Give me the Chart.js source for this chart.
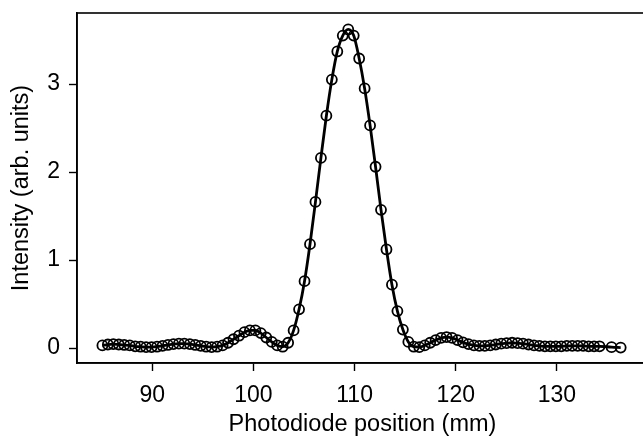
<!DOCTYPE html>
<html>
<head>
<meta charset="utf-8">
<script src="https://cdn.jsdelivr.net/npm/chart.js@4.4.1/dist/chart.umd.min.js"></script>
<style>
  html, body { margin: 0; padding: 0; background: #ffffff; overflow: hidden; }
  #wrap { position: absolute; left: 0; top: 0; width: 660px; height: 436px; }
</style>
</head>
<body>
<div id="wrap"><canvas id="c"></canvas></div>
<script>
// Photodiode position (mm)
const positions = [
  85.07, 85.61, 86.15, 86.69, 87.23, 87.77, 88.31, 88.85, 89.39, 89.93,
  90.47, 91.01, 91.55, 92.09, 92.63, 93.17, 93.71, 94.25, 94.79, 95.33,
  95.87, 96.41, 96.95, 97.49, 98.03, 98.57, 99.11, 99.65, 100.19, 100.73,
  101.27, 101.81, 102.35, 102.89, 103.43, 103.97, 104.51, 105.05, 105.59, 106.13,
  106.67, 107.21, 107.75, 108.29, 108.83, 109.37, 109.91, 110.45, 110.99, 111.53,
  112.07, 112.61, 113.15, 113.69, 114.23, 114.77, 115.31, 115.85, 116.39, 116.93,
  117.47, 118.01, 118.55, 119.09, 119.63, 120.17, 120.71, 121.25, 121.79, 122.33,
  122.87, 123.41, 123.95, 124.49, 125.03, 125.57, 126.11, 126.65, 127.19, 127.73,
  128.27, 128.81, 129.35, 129.89, 130.43, 130.97, 131.51, 132.05, 132.59, 133.13,
  133.67, 134.21, 135.40, 136.30
];
// Intensity (arb. units)
const intensity = [
  0.03, 0.04, 0.045, 0.04, 0.035, 0.03, 0.02, 0.015, 0.01, 0.01,
  0.015, 0.025, 0.035, 0.045, 0.05, 0.05, 0.045, 0.035, 0.025, 0.015,
  0.01, 0.015, 0.03, 0.06, 0.10, 0.14, 0.18, 0.20, 0.20, 0.17,
  0.12, 0.07, 0.03, 0.015, 0.06, 0.20, 0.44, 0.76, 1.18, 1.66,
  2.16, 2.64, 3.05, 3.37, 3.55, 3.62, 3.55, 3.29, 2.95, 2.53,
  2.06, 1.57, 1.12, 0.72, 0.42, 0.21, 0.07, 0.015, 0.01, 0.03,
  0.06, 0.09, 0.115, 0.125, 0.115, 0.09, 0.065, 0.045, 0.03, 0.025,
  0.025, 0.03, 0.04, 0.05, 0.055, 0.06, 0.055, 0.05, 0.04, 0.03,
  0.025, 0.02, 0.02, 0.02, 0.02, 0.025, 0.025, 0.025, 0.025, 0.02,
  0.02, 0.02, 0.01, 0.005
];
const xTicks = [90, 100, 110, 120, 130];
const yTicks = [0, 1, 2, 3];

const pts = positions.map((x, i) => ({ x: x, y: intensity[i] }));

const FONT = "'Liberation Sans', Arial, Helvetica, sans-serif";

// Frame around the axes and x tick labels placed through the x scale
const frame = {
  id: 'frame',
  afterDraw(chart) {
    const a = chart.chartArea, ctx = chart.ctx, sx = chart.scales.x;
    ctx.save();
    ctx.strokeStyle = '#000';
    ctx.lineWidth = 1.6;
    ctx.strokeRect(a.left, a.top, a.right - a.left, a.bottom - a.top);
    ctx.fillStyle = '#000';
    ctx.font = '23px ' + FONT;
    ctx.textAlign = 'center';
    ctx.textBaseline = 'middle';
    xTicks.forEach(v => {
      ctx.fillText(String(v), sx.getPixelForValue(v), a.bottom + 32.5);
    });
    ctx.restore();
  }
};

new Chart(document.getElementById('c'), {
  type: 'scatter',
  data: {
    datasets: [
      {
        label: 'fit',
        data: pts,
        showLine: true,
        borderColor: '#000',
        borderWidth: 2.8,
        pointRadius: 0,
        cubicInterpolationMode: 'monotone',
        fill: false,
        order: 1
      },
      {
        label: 'data',
        data: pts,
        showLine: false,
        pointStyle: 'circle',
        pointRadius: 5,
        pointBorderWidth: 1.8,
        pointBorderColor: '#000',
        pointBackgroundColor: 'rgba(0,0,0,0)',
        order: 2
      }
    ]
  },
  options: {
    responsive: true,
    maintainAspectRatio: false,
    animation: false,
    layout: { padding: { top: 13, right: 12, bottom: 0, left: 0 } },
    plugins: { legend: { display: false }, tooltip: { enabled: false } },
    scales: {
      x: {
        type: 'linear',
        min: 82.56,
        max: 139.0,
        afterBuildTicks(s) { s.ticks = xTicks.map(v => ({ value: v })); },
        grid: { display: true, drawOnChartArea: false, drawTicks: true, tickLength: 8, tickWidth: 1.4, tickColor: '#000' },
        border: { display: true, color: '#000', width: 1.6 },
        ticks: { display: false },
        title: { display: true, text: 'Photodiode position (mm)', color: '#000', font: { family: FONT, size: 23.5, lineHeight: 1.0 }, padding: { top: 41.5, bottom: 0 } }
      },
      y: {
        type: 'linear',
        min: -0.17,
        max: 3.807,
        afterBuildTicks(s) { s.ticks = yTicks.map(v => ({ value: v })); },
        afterFit(s) { s.width = 77; s.paddingTop = 0; s.paddingBottom = 0; },
        grid: { display: true, drawOnChartArea: false, drawTicks: true, tickLength: 8, tickWidth: 1.4, tickColor: '#000' },
        border: { display: true, color: '#000', width: 1.6 },
        ticks: { color: '#000', font: { family: FONT, size: 23, lineHeight: 1.0 }, padding: 9, autoSkip: false,
                 callback: (v) => String(v) },
        title: { display: true, text: 'Intensity (arb. units)', color: '#000', font: { family: FONT, size: 23.5, lineHeight: 1.0 }, padding: { top: 10, bottom: 4 } }
      }
    }
  },
  plugins: [frame]
});
</script>
</body>
</html>
